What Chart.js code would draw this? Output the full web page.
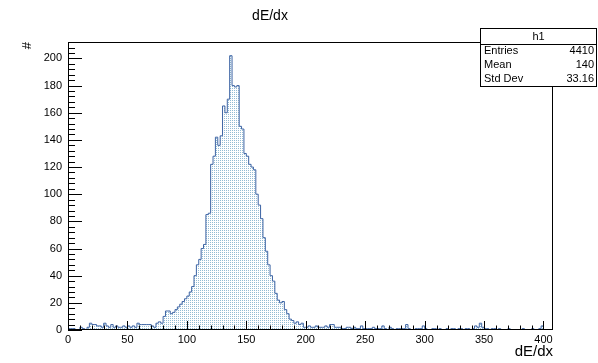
<!DOCTYPE html>
<html>
<head>
<meta charset="utf-8">
<title>dE/dx</title>
<script src="https://cdn.jsdelivr.net/npm/chart.js@4.4.0/dist/chart.umd.min.js"></script>
<style>
  html, body { margin: 0; padding: 0; background: #fff; }
</style>
</head>
<body>
<canvas id="myChart" width="598" height="363"></canvas>
<script>
// histogram h1 : dE/dx, bins of width 2 from 0 to 408
const histName = 'h1';
const histTitle = 'dE/dx';
const xTitle = 'dE/dx';
const yTitle = '#';
const xLow = 0;
const xHigh = 408;
const binWidth = 2;

// bin contents
const counts = [
  0, 1, 1, 1, 0, 0, 2, 1, 0, 2,
  5, 4, 4, 3, 3, 2, 5, 3, 2, 4,
  2, 3, 2, 2, 3, 2, 3, 2, 3, 2,
  5, 4, 4, 4, 4, 4, 3, 2, 5, 6,
  5, 10, 14, 14, 12, 13, 15, 17, 19, 21,
  23, 25, 28, 32, 40, 48, 52, 60, 63, 85,
  86, 122, 128, 142, 136, 143, 165, 160, 170, 202,
  180, 179, 180, 150, 148, 130, 128, 122, 120, 118,
  100, 92, 82, 68, 58, 48, 40, 36, 27, 22,
  20, 21, 15, 12, 8, 7, 5, 6, 4, 5,
  2, 2, 3, 2, 2, 3, 2, 2, 2, 3,
  2, 4, 4, 2, 2, 2, 1, 1, 2, 2,
  1, 2, 1, 1, 3, 1, 1, 1, 1, 2,
  1, 1, 1, 3, 1, 0, 2, 1, 0, 1,
  1, 1, 1, 4, 1, 0, 0, 1, 1, 1,
  3, 1, 0, 0, 1, 1, 0, 1, 0, 0,
  1, 0, 1, 1, 0, 1, 1, 0, 1, 1,
  0, 1, 3, 2, 5, 2, 1, 1, 0, 1,
  1, 0, 1, 0, 0, 0, 1, 0, 0, 0,
  0, 0, 1, 0, 0, 0, 1, 0, 0, 1,
  3, 0, 0, 0
];

// stats box
const statsLabels = ['Entries', 'Mean', 'Std Dev'];
const statsValues = ['4410', '140', '33.16'];

// axis divisions
const xTickStep = 50, xMinorStep = 10;
const yTickStep = 20, yMinorStep = 4;

const FONT = '"Liberation Sans", Arial, Helvetica, sans-serif';
const LINE_COLOR = '#3d64a4';
const DOT_COLOR = '#93bcd3';

// ROOT puts the maximum 5% above the highest bin
const yMax = Math.max(...counts) * 1.05;

// step outline: start at baseline, one point per bin low edge, close at the upper edge
function histPoints() {
  const pts = [{ x: xLow, y: 0 }];
  counts.forEach((c, i) => pts.push({ x: xLow + i * binWidth, y: c }));
  pts.push({ x: xHigh, y: counts[counts.length - 1] });
  pts.push({ x: xHigh, y: 0 });
  return pts;
}

// fill style 3001-like: sparse dots
function dotPattern(ctx) {
  const tile = document.createElement('canvas');
  tile.width = 2; tile.height = 2;
  const g = tile.getContext('2d');
  g.fillStyle = DOT_COLOR;
  g.fillRect(0, 0, 1, 1);
  return ctx.createPattern(tile, 'repeat');
}

// inward ticks and the frame, ROOT style
const rootFrame = {
  id: 'rootFrame',
  afterDatasetsDraw(chart) {
    const { ctx, chartArea: a, scales: { x, y } } = chart;
    ctx.save();
    ctx.strokeStyle = '#000';
    ctx.lineWidth = 1;
    ctx.strokeRect(Math.round(a.left) + 0.5, Math.round(a.top) + 0.5,
                   Math.round(a.width) - 1, Math.round(a.height) - 1);
    ctx.beginPath();
    for (let v = xLow; v <= xHigh; v += xMinorStep) {
      const px = Math.round(x.getPixelForValue(v)) + 0.5;
      const len = v % xTickStep === 0 ? 9 : 4.5;
      ctx.moveTo(px, a.bottom);
      ctx.lineTo(px, a.bottom - len);
    }
    for (let v = 0; v <= y.max; v += yMinorStep) {
      const py = Math.round(y.getPixelForValue(v)) + 0.5;
      const len = v % yTickStep === 0 ? 14 : 7;
      ctx.moveTo(a.left, py);
      ctx.lineTo(a.left + len, py);
    }
    ctx.stroke();
    ctx.restore();
  },
  afterDraw(chart) {
    const ctx = chart.ctx;
    ctx.save();
    // title
    ctx.fillStyle = '#000';
    ctx.font = '14px ' + FONT;
    ctx.textAlign = 'center';
    ctx.textBaseline = 'middle';
    ctx.fillText(histTitle, 270, 16);

    // stats box
    const bx = 480, by = 28, bw = 117, bh = 59;
    ctx.fillStyle = '#fff';
    ctx.fillRect(bx, by, bw, bh);
    ctx.strokeStyle = '#000';
    ctx.lineWidth = 1;
    ctx.strokeRect(bx + 0.5, by + 0.5, bw - 1, bh - 1);
    ctx.beginPath();
    ctx.moveTo(bx, 44.5);
    ctx.lineTo(bx + bw, 44.5);
    ctx.stroke();
    ctx.fillStyle = '#000';
    ctx.font = '11px ' + FONT;
    ctx.textAlign = 'center';
    ctx.fillText(histName, bx + bw / 2, 36.5);
    statsLabels.forEach((lab, i) => {
      const ty = 50.5 + i * 14.2;
      ctx.textAlign = 'left';
      ctx.fillText(lab, bx + 4, ty);
      ctx.textAlign = 'right';
      ctx.fillText(statsValues[i], bx + bw - 3, ty);
    });
    ctx.restore();
  }
};

function generateChart() {
  const canvas = document.getElementById('myChart');
  const ctx = canvas.getContext('2d');
  try {
    return new Chart(ctx, {
      type: 'line',
      data: {
        datasets: [{
          data: histPoints(),
          stepped: 'after',
          borderColor: LINE_COLOR,
          borderWidth: 1,
          backgroundColor: dotPattern(ctx),
          fill: 'origin',
          pointRadius: 0,
          tension: 0
        }]
      },
      options: {
        responsive: false,
        animation: false,
        events: [],
        layout: { padding: { left: 0, top: 42, right: 45, bottom: 0 } },
        plugins: {
          legend: { display: false },
          tooltip: { enabled: false },
          title: { display: false }
        },
        scales: {
          x: {
            type: 'linear',
            min: xLow,
            max: xHigh,
            border: { display: false },
            grid: { display: false, drawTicks: false },
            ticks: {
              stepSize: xTickStep,
              includeBounds: false,
              autoSkip: false,
              maxRotation: 0,
              padding: 3,
              color: '#000',
              font: { family: FONT, size: 11 }
            },
            title: {
              display: true,
              text: xTitle,
              align: 'end',
              color: '#000',
              font: { family: FONT, size: 15 },
              padding: { top: 0, bottom: 2 }
            },
            afterFit: s => { s.height = 33; }
          },
          y: {
            type: 'linear',
            min: 0,
            max: yMax,
            border: { display: false },
            grid: { display: false, drawTicks: false },
            ticks: {
              stepSize: yTickStep,
              includeBounds: false,
              padding: 6,
              color: '#000',
              font: { family: FONT, size: 11 }
            },
            title: {
              display: true,
              text: yTitle,
              align: 'end',
              color: '#000',
              font: { family: FONT, size: 13 },
              padding: { top: 20, bottom: 0 }
            },
            afterFit: s => { s.width = 68; }
          }
        }
      },
      plugins: [rootFrame]
    });
  } catch (error) {
    console.error('Error generating chart:', error);
  }
}

generateChart();
</script>
</body>
</html>
